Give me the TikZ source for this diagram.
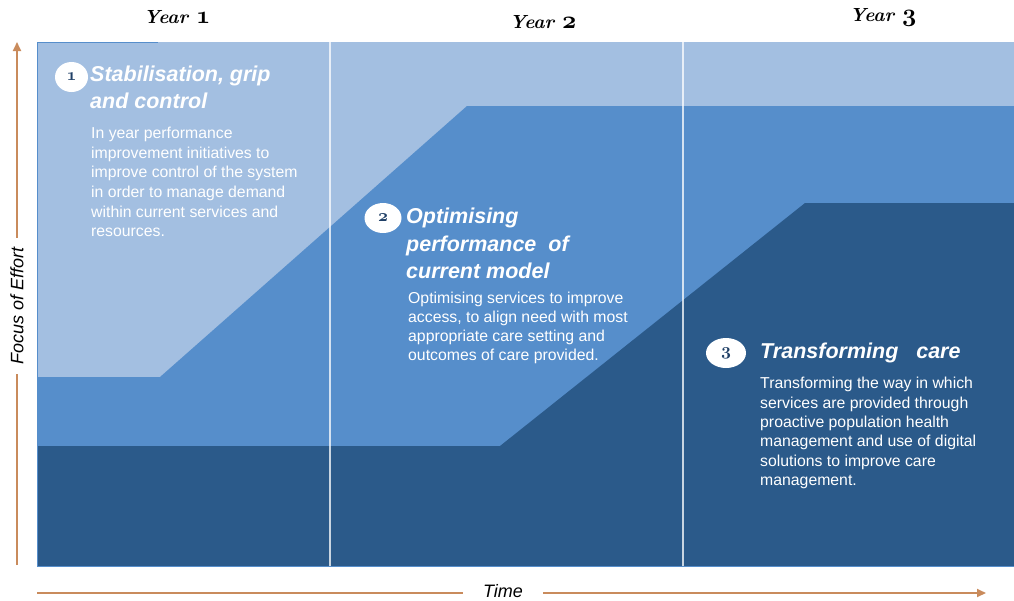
\documentclass[tikz,border=0pt]{standalone}
\usepackage{fontspec}
\newfontfamily\arial{Liberation Sans}
\usetikzlibrary{arrows.meta,shapes.geometric}
\definecolor{lightb}{HTML}{A3BFE1}
\definecolor{midb}{HTML}{568ECB}
\definecolor{darkb}{HTML}{2B5A8A}
\definecolor{axisc}{HTML}{C98B5C}
\definecolor{numc}{HTML}{1F3F66}
\newcommand{\osn}[2]{{\fontencoding{OML}\fontfamily{cmm}\fontseries{b}\fontshape{it}\fontsize{#1}{#1}\selectfont #2}}
\begin{document}
\begin{tikzpicture}[x=1pt,y=-1pt,
  yearlbl/.style={font=\fontsize{19}{21}\selectfont\bfseries\itshape, text=black, inner sep=0pt},
  numcirc/.style={ellipse, fill=white, inner sep=0pt, minimum width=34pt, minimum height=30pt,
     text=numc},
  headtxt/.style={anchor=north west, inner sep=0pt, align=left, text=white,
     font=\arial\bfseries\itshape\fontsize{21.5}{26.5}\selectfont},
  bodytxt/.style={anchor=north west, inner sep=0pt, align=left, text=white,
     font=\arial\fontsize{15.8}{19.6}\selectfont},
  axisline/.style={draw=axisc, line width=1.8pt, -{Triangle[length=9pt,width=8pt]}},
  axislbl/.style={fill=white, text=black, inner ysep=0.5pt, font=\arial\itshape\fontsize{18}{19}\selectfont},
  divider/.style={draw=white, draw opacity=0.75, line width=1.4pt}
]
\useasboundingbox (0,0) rectangle (1014,600);

% bands
\fill[lightb] (37,42) rectangle (1014,566);
\fill[midb] (37,377) -- (160,377) -- (467,106) -- (1014,106) -- (1014,566) -- (37,566) -- cycle;
\fill[darkb] (37,446) -- (500,446) -- (805,203) -- (1014,203) -- (1014,566) -- (37,566) -- cycle;
\draw[midb, line width=1pt] (37,42) -- (158,42);
\draw[midb, line width=1pt] (37,42) -- (37,566) -- (1014,566);

% year dividers
\coordinate (d1t) at (330,42); \coordinate (d1b) at (330,566);
\coordinate (d2t) at (683,42); \coordinate (d2b) at (683,566);
\draw[divider] (d1t) -- (d1b);
\draw[divider] (d2t) -- (d2b);

% year labels
\node[yearlbl] (y1) at (177,17) {Year \osn{24}{1}};
\node[yearlbl] (y2) at (543,22) {Year \osn{24}{2}};
\node[yearlbl] (y3) at (883,17) {Year \osn{24}{3}};

% section 1
\node[numcirc, minimum width=33pt] (c1) at (71.5,77) {\osn{19}{1}};
\node[headtxt] (h1) at (90,66) {Stabilisation, grip\\and control};
\node[bodytxt] (b1) at (91,127) {In year performance\\improvement initiatives to\\improve control of the system\\in order to manage demand\\within current services and\\resources.};

% section 2
\node[numcirc, minimum width=37pt] (c2) at (383,218) {\osn{19}{2}};
\node[headtxt, font=\arial\bfseries\itshape\fontsize{21.5}{27.5}\selectfont] (h2) at (406,208) {Optimising\\performance~ of\\current model};
\node[bodytxt, font=\arial\fontsize{15.8}{18.8}\selectfont] (b2) at (408,292) {Optimising services to improve\\access, to align need with most\\appropriate care setting and\\outcomes of care provided.};

% section 3
\node[numcirc, minimum width=40pt] (c3) at (726,353) {\osn{19}{3}};
\node[headtxt] (h3) at (760,343) {Transforming~~ care};
\node[bodytxt, font=\arial\fontsize{15.8}{19.4}\selectfont] (b3) at (760,377) {Transforming the way in which\\services are provided through\\proactive population health\\management and use of digital\\solutions to improve care\\management.};

% axes
\coordinate (ybot) at (17,565);
\coordinate (ytop) at (17,42);
\coordinate (xl) at (37,593);
\coordinate (xr) at (986,593);
\draw[axisline] (ybot) -- (ytop);
\draw[axisline] (xl) -- (xr);
\node[axislbl, rotate=90, inner xsep=9pt] (focus) at (17,306) {Focus of Effort};
\node[axislbl, inner xsep=20pt] (time) at (503,591) {Time};
\end{tikzpicture}
\end{document}
